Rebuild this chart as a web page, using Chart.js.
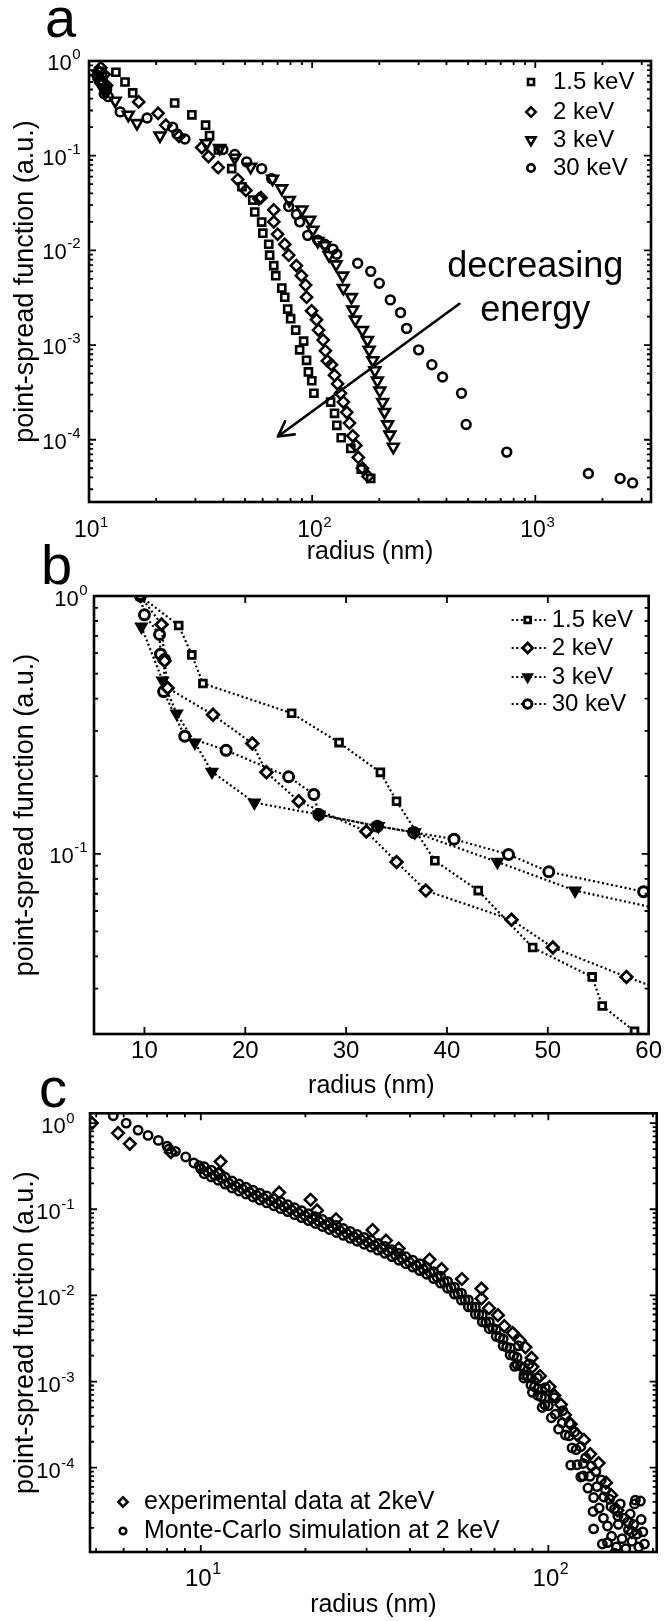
<!DOCTYPE html>
<html>
<head>
<meta charset="utf-8">
<script src="https://cdn.jsdelivr.net/npm/chart.js@4/dist/chart.umd.min.js"></script>
<style>
html,body{margin:0;padding:0;background:#fff;}
#wrap{position:relative;width:665px;height:1621px;overflow:hidden;font-family:"Liberation Sans",Arial,Helvetica,sans-serif;color:#000;}
canvas{position:absolute;left:0;}
.lbl{position:absolute;font-size:56px;line-height:56px;color:#000;z-index:5;}
</style>
</head>
<body>
<div id="wrap">
<canvas id="ca" width="665" height="570" style="top:0px"></canvas>
<canvas id="cb" width="665" height="535" style="top:570px"></canvas>
<canvas id="cc" width="665" height="516" style="top:1105px"></canvas>
<div class="lbl" style="left:45px;top:-10px">a</div>
<div class="lbl" style="left:41px;top:537px">b</div>
<div class="lbl" style="left:39px;top:1060px">c</div>
</div>
<script>
// ---------------- DATA ----------------
// Panel a: point-spread function vs radius (log-log)
const A_SERIES_LABELS = ['1.5 keV', '2 keV', '3 keV', '30 keV'];
const A_15KEV = [[10.9,0.70],[11.1,0.78],[11.5,0.62],[13.2,0.76],[14.5,0.60],[15.7,0.46],[24.2,0.36],[28.9,0.27],[33.3,0.21],[34.7,0.163],[38,0.115],[43.6,0.073],[48.5,0.047],[54.2,0.034],[55.3,0.0254],[59.4,0.0199],[60.1,0.0152],[63.9,0.0116],[64.5,0.0089],[67.3,0.0069],[68.7,0.0054],[73.1,0.0040],[75.4,0.0032],[77.7,0.0024],[80.1,0.0019],[84.4,0.00144],[91.6,0.0011],[87.9,0.00089],[94.4,0.00069],[96.2,0.00052],[99.6,0.00042],[101.8,0.00031],[121,0.00025],[126,0.00019],[129,0.000142],[135,0.000105],[149,0.000081],[166,0.000049],[183,0.000039]];
const A_2KEV = [[11.0,0.78],[11.3,0.85],[11.5,0.60],[11.7,0.72],[12.0,0.55],[16.7,0.37],[20.4,0.28],[22.1,0.21],[25.3,0.16],[32,0.122],[34.3,0.098],[37.9,0.075],[46.4,0.056],[50.5,0.043],[57.7,0.035],[59,0.036],[67.3,0.0267],[67.3,0.020],[70,0.0148],[75.4,0.0116],[78.5,0.0089],[85,0.0069],[89.5,0.0054],[93.5,0.0043],[94.4,0.0032],[99.4,0.0023],[104.6,0.00185],[106.8,0.00144],[112,0.00113],[114.6,0.00087],[117,0.00068],[122,0.00062],[126,0.00048],[130,0.00039],[134,0.00031],[138,0.00025],[143,0.000195],[147,0.00015],[152,0.00011],[157,0.000087],[161,0.000065],[168,0.00005],[178,0.000041]];
const A_3KEV = [[10.9,0.66],[11.2,0.58],[11.5,0.52],[11.8,0.48],[13.1,0.38],[15,0.27],[16.4,0.22],[20.8,0.163],[33.6,0.135],[38.5,0.12],[45,0.095],[53,0.076],[66.5,0.057],[73,0.045],[79,0.034],[90,0.027],[97.6,0.021],[100.7,0.0165],[106,0.0125],[114,0.0113],[119,0.0089],[128,0.0071],[137,0.0054],[138,0.0040],[150,0.0032],[152,0.00236],[156,0.00185],[168,0.00144],[177,0.00113],[180,0.00089],[187,0.00069],[191,0.00054],[196,0.00042],[201,0.00033],[207,0.00025],[211,0.000196],[218,0.000145],[223,0.000113],[231,0.000084]];
const A_30KEV = [[11.1,0.62],[11.4,0.70],[11.7,0.45],[12.0,0.50],[12.2,0.42],[13.8,0.29],[18.2,0.25],[23.7,0.20],[24.8,0.17],[26.9,0.15],[39.8,0.116],[45,0.103],[50.9,0.086],[59.4,0.073],[65.9,0.057],[78.5,0.029],[85,0.024],[88,0.020],[95.5,0.0144],[106,0.0128],[114,0.0116],[124,0.0103],[129,0.0091],[160,0.0073],[183,0.0060],[200,0.0045],[224,0.0030],[249,0.0022],[265,0.0015],[300,0.00089],[344,0.00062],[384,0.00046],[467,0.00031],[490,0.000145],[745,0.000074],[1730,0.000044],[2400,0.000039],[2730,0.000035]];
const A_X_TICKS = [10, 100, 1000];
const A_Y_TICKS = [1e-4, 1e-3, 1e-2, 1e-1, 1];
const A_NOTE = ['decreasing', 'energy'];
const A_NOTE_AT = [1000, 0.0066, 0.0023];        // x, y of line 1, y of line 2 (data units)
const A_ARROW = [[457, 0.00273], [70.2, 0.000108]]; // from, to (data units)

// Panel b: linear radius, log PSF, dotted lines
const B_15KEV = [[9.6,1.0],[13.4,0.768],[14.7,0.591],[15.8,0.458],[24.6,0.351],[29.3,0.27],[33.4,0.207],[35.0,0.16],[38.8,0.094],[43.1,0.072],[48.5,0.0433],[54.4,0.0333],[55.4,0.0257],[58.6,0.0205],[59.8,0.0175]];
const B_2KEV = [[9.6,1.0],[11.7,0.775],[12.0,0.56],[12.3,0.44],[16.8,0.346],[20.7,0.268],[22.1,0.207],[25.3,0.16],[32.0,0.122],[35.0,0.093],[37.9,0.072],[46.4,0.0555],[50.5,0.0433],[57.8,0.0333],[62,0.029]];
const B_3KEV = [[9.7,0.76],[11.8,0.47],[13.2,0.35],[15.0,0.27],[16.7,0.208],[20.9,0.158],[27.3,0.142],[33.2,0.128],[36.8,0.121],[45.0,0.093],[52.7,0.072],[62,0.06]];
const B_30KEV = [[9.6,1.0],[10.0,0.845],[11.5,0.709],[11.6,0.595],[12.0,0.567],[11.9,0.426],[14.0,0.286],[18.1,0.252],[24.3,0.199],[26.8,0.17],[27.3,0.142],[33.1,0.128],[36.7,0.121],[40.7,0.114],[46.1,0.0994],[50.1,0.0852],[59.5,0.0713],[62,0.069]];
const B_X_TICKS = [10, 20, 30, 40, 50, 60];
const B_Y_TICKS = [0.1, 1];

// Panel c: experiment vs Monte-Carlo at 2 keV
const C_SERIES_LABELS = ['experimental data at 2keV', 'Monte-Carlo simulation at 2 keV'];
const C_EXP = [[4.86,1.0],[5.78,0.766],[6.25,0.575],[8.2,0.46],[11.3,0.264],[11.4,0.358],[16.8,0.156],[20.7,0.129],[21.6,0.097],[24.5,0.0766],[31.2,0.0575],[34.1,0.0433],[37.1,0.035],[45.5,0.0261],[49.3,0.0202],[56.4,0.0155],[64.2,0.012],[64.2,0.0092],[67.5,0.0071],[71.6,0.0059],[74.7,0.0044],[79,0.00365],[82.8,0.003],[85.9,0.0025],[89.5,0.00188],[90,0.00148],[94.6,0.00116],[100.8,0.00087],[104,0.00069],[108.7,0.00054],[111.7,0.00041],[116,0.00032],[121,0.00024],[126.6,0.00021],[132,0.000144],[139.5,0.000113],[146.6,0.000067],[151.6,0.000048],[158,0.000032],[169.5,0.0000235],[174,0.0000178]];
const C_MC_HEAD = [[5.6,1.22],[6.1,1.0],[6.6,0.83],[7.05,0.72],[7.55,0.63],[8.0,0.54],[8.1,0.50],[8.45,0.47],[9.05,0.405],[9.55,0.345],[9.9,0.32]];
const C_MC_BAND = [[10.0,0.295],[10.47,0.272],[10.96,0.248],[11.48,0.229],[12.02,0.202],[12.59,0.186],[13.18,0.172],[13.8,0.158],[14.45,0.146],[15.14,0.135],[15.85,0.125],[16.6,0.116],[17.38,0.107],[18.2,0.0989],[19.05,0.0912],[19.95,0.0843],[20.89,0.078],[21.88,0.072],[22.91,0.0665],[23.99,0.0614],[25.12,0.0568],[26.3,0.0525],[27.54,0.0484],[28.84,0.0448],[30.2,0.0414],[31.62,0.0382],[33.11,0.0352],[34.67,0.0324],[36.31,0.0295],[38.02,0.0268],[39.81,0.0244],[41.69,0.0223],[43.65,0.0202],[45.71,0.0184],[47.86,0.0162],[50.12,0.0143],[52.48,0.0123],[54.95,0.0105],[57.54,0.0089],[60.26,0.00733],[63.1,0.00603],[66.07,0.00484],[69.18,0.00417],[72.44,0.00324],[75.86,0.00251],[79.43,0.0020],[83.18,0.00151],[87.1,0.00115],[91.2,0.00087],[95.5,0.00066],[100,0.000525],[104.7,0.000417],[109.6,0.000331],[114.8,0.000234],[120.2,0.000162],[125.9,0.000112],[131.8,0.0000794],[138,0.0000603],[144.5,0.0000457],[151.4,0.0000355],[158.5,0.0000275]];
const C_MC_BAND_LOW = [[10.23,0.2585],[10.72,0.237],[11.22,0.2175],[11.75,0.196],[12.3,0.1768],[12.88,0.1631],[13.49,0.1504],[14.13,0.1388],[14.79,0.1281],[15.49,0.1186],[16.22,0.110],[16.98,0.1017],[17.78,0.0939],[18.62,0.0866],[19.5,0.080],[20.42,0.074],[21.38,0.0683],[22.39,0.0631],[23.44,0.0583],[24.55,0.0538],[25.7,0.0498],[26.92,0.046],[28.18,0.0425],[29.51,0.0393],[30.9,0.0363],[32.36,0.0335],[33.88,0.0308],[35.48,0.0282],[37.15,0.0256],[38.9,0.0233],[40.74,0.0213],[42.66,0.0194],[44.67,0.0176],[46.77,0.0157],[48.98,0.0139],[51.29,0.0121],[53.7,0.01035],[56.23,0.00881],[58.88,0.00737],[61.66,0.00606],[64.57,0.00493],[67.61,0.0041],[70.79,0.00335],[74.13,0.0026],[77.62,0.00204],[81.28,0.00158],[85.11,0.0012],[89.13,0.00091],[93.33,0.00069],[97.72,0.000537]];
const C_MC_BAND_HIGH = [[10.23,0.311],[10.72,0.285],[11.22,0.2615],[11.75,0.2358],[12.3,0.2126],[12.88,0.1961],[13.49,0.1809],[14.13,0.1669],[14.79,0.154],[15.49,0.1426],[16.22,0.1323],[16.98,0.1223],[17.78,0.1128],[18.62,0.1041],[19.5,0.0962],[20.42,0.0889],[21.38,0.0821],[22.39,0.0759],[23.44,0.0701],[24.55,0.0647],[25.7,0.0598],[26.92,0.0553],[28.18,0.051],[29.51,0.0472],[30.9,0.0436],[32.36,0.0402],[33.88,0.037],[35.48,0.0339],[37.15,0.0308],[38.9,0.0281],[40.74,0.0256],[42.66,0.0233],[44.67,0.0211],[46.77,0.0189],[48.98,0.0167],[51.29,0.01454],[53.7,0.01245],[56.23,0.0106],[58.88,0.00886],[61.66,0.00729],[64.57,0.00592],[67.61,0.00493],[70.79,0.00403],[74.13,0.00313],[77.62,0.00245],[81.28,0.0019],[85.11,0.00145],[89.13,0.0011],[93.33,0.00083],[97.72,0.000646]];
const C_MC_TAIL = [[80,0.0015],[82,0.0026],[85,0.0011],[88,0.0016],[90,0.00075],[93,0.0011],[96,0.0005],[98,0.00085],[102,0.00038],[104,0.00065],[107,0.00028],[110,0.00046],[112,0.00024],[115,0.00033],[117,0.00017],[119,0.00026],[121,0.000108],[124,0.000175],[126,0.00008],[128,0.00013],[130,0.000058],[133,0.000105],[135,0.000045],[137,0.00009],[140,0.000034],[142,0.000072],[144,0.000026],[146,0.000055],[148,0.000021],[150,0.000043],[152,0.000016],[155,0.000033],[157,0.000012],[159,0.000022],[161,0.000038],[163,0.000015],[165,0.000026],[167,0.0000115],[170,0.000019],[172,0.000029],[174,0.000014],[176,0.000022],[178,0.000042],[180,0.000017],[182,0.000012],[185,0.000025],[187,0.000018],[189,0.000013],[116,0.000107],[124,0.000078],[134.5,0.000031],[135,0.0000195],[184,0.000041],[177,0.000038],[143,0.000013],[155,0.0000102],[148,0.0000135]];
const C_X_TICKS = [10, 100];
const C_Y_TICKS = [1e-4, 1e-3, 1e-2, 1e-1, 1];

// ---------------- HELPERS ----------------
const FONT = '"Liberation Sans", Arial, Helvetica, sans-serif';
const SUP = {'-':'\u207B','0':'\u2070','1':'\u00B9','2':'\u00B2','3':'\u00B3','4':'\u2074','5':'\u2075','6':'\u2076','7':'\u2077','8':'\u2078','9':'\u2079'};
function pow10Label(v){ const e = Math.round(Math.log10(v)); return '10' + String(e).split('').map(c => SUP[c]).join(''); }
const pts = arr => arr.map(([x, y]) => ({x, y}));

function logMarks(min, max){
  const out = [];
  for (let e = Math.floor(Math.log10(min)); e <= Math.ceil(Math.log10(max)); e++) {
    for (let m = 1; m <= 9; m++) {
      const v = m * Math.pow(10, e);
      if (v >= min * 0.999 && v <= max * 1.001) out.push([v, m === 1]);
    }
  }
  return out;
}

const framePlugin = {
  id: 'frame',
  afterDatasetsDraw(chart, args, o) {
    const {ctx, chartArea: a} = chart; const xs = chart.scales.x, ys = chart.scales.y;
    const xm = xs.type === 'logarithmic' ? logMarks(xs.min, xs.max) : (o.xMarks || []).map(v => [v, true]);
    const ym = ys.type === 'logarithmic' ? logMarks(ys.min, ys.max) : (o.yMarks || []).map(v => [v, true]);
    ctx.save(); ctx.strokeStyle = '#000'; ctx.lineWidth = 1.8; ctx.beginPath();
    xm.forEach(([v, maj]) => { const p = xs.getPixelForValue(v); const L = maj ? 7 : 4;
      ctx.moveTo(p, a.bottom); ctx.lineTo(p, a.bottom - L); ctx.moveTo(p, a.top); ctx.lineTo(p, a.top + L); });
    ym.forEach(([v, maj]) => { const p = ys.getPixelForValue(v); const L = maj ? 7 : 4;
      ctx.moveTo(a.left, p); ctx.lineTo(a.left + L, p); ctx.moveTo(a.right, p); ctx.lineTo(a.right - L, p); });
    ctx.stroke();
    ctx.lineWidth = 2.6; ctx.strokeRect(a.left, a.top, a.right - a.left, a.bottom - a.top);
    ctx.restore();
  }
};

// draws "10" with a raised exponent for each (log) tick of the axis
const powLabelPlugin = {
  id: 'powLabels',
  afterDraw(chart, args, o) {
    const {ctx, chartArea: a} = chart;
    ctx.save(); ctx.fillStyle = '#000'; ctx.textAlign = 'left'; ctx.textBaseline = 'alphabetic';
    ['x', 'y'].forEach(k => {
      const s = chart.scales[k], c = o[k];
      if (!c || s.type !== 'logarithmic') return;
      s.ticks.forEach(t => {
        const v = t.value, e = String(Math.round(Math.log10(v)));
        ctx.font = c.size + 'px ' + FONT; const wb = ctx.measureText('10').width;
        ctx.font = c.sup + 'px ' + FONT; const we = ctx.measureText(e).width;
        let x, y;
        if (k === 'x') { x = s.getPixelForValue(v) - (wb + we) / 2 + 2; y = a.bottom + c.off; }
        else { x = a.left - c.off - wb - we; y = s.getPixelForValue(v) + c.dy; }
        ctx.font = c.size + 'px ' + FONT; ctx.fillText('10', x, y);
        ctx.font = c.sup + 'px ' + FONT; ctx.fillText(e, x + wb + 0.5, y - c.rise);
      });
    });
    ctx.restore();
  }
};

const legendPlugin = {
  id: 'plateLegend',
  afterDraw(chart, args, o) {
    if (!o || !o.rows) return;
    const {ctx, chartArea: a} = chart;
    ctx.save();
    ctx.font = o.font; ctx.textBaseline = 'middle'; ctx.textAlign = 'left';
    chart.data.datasets.forEach((ds, i) => {
      const y = (o.anchor === 'bottom' ? a.bottom : a.top) + o.rows[i];
      const base = o.side === 'right' ? a.right : a.left;
      if (o.line) {
        ctx.save(); ctx.strokeStyle = '#000'; ctx.lineWidth = ds.borderWidth; ctx.setLineDash(ds.borderDash || []);
        ctx.beginPath(); ctx.moveTo(base + o.lineFrom, y); ctx.lineTo(base + o.lineTo, y); ctx.stroke(); ctx.restore();
      }
      ctx.save();
      ctx.fillStyle = ds.pointBackgroundColor || ds.backgroundColor; ctx.strokeStyle = '#000'; ctx.lineWidth = ds.pointBorderWidth; ctx.setLineDash([]);
      Chart.helpers.drawPoint(ctx, {pointStyle: ds.pointStyle, rotation: ds.pointRotation || 0, radius: ds.pointRadius * (o.markerScale || 1), borderWidth: ds.pointBorderWidth}, base + o.markerDX, y);
      ctx.restore();
      ctx.fillStyle = '#000';
      ctx.fillText(ds.label, base + o.textDX, y);
    });
    ctx.restore();
  }
};

const notePlugin = {
  id: 'note',
  afterDatasetsDraw(chart, args, o) {
    if (!o || !o.text) return;
    const {ctx} = chart; const xs = chart.scales.x, ys = chart.scales.y;
    ctx.save();
    ctx.fillStyle = '#000'; ctx.font = o.font; ctx.textAlign = 'center'; ctx.textBaseline = 'middle';
    const tx = xs.getPixelForValue(o.at[0]);
    ctx.fillText(o.text[0], tx, ys.getPixelForValue(o.at[1]));
    ctx.fillText(o.text[1], tx, ys.getPixelForValue(o.at[2]));
    const x0 = xs.getPixelForValue(o.arrow[0][0]), y0 = ys.getPixelForValue(o.arrow[0][1]);
    const x1 = xs.getPixelForValue(o.arrow[1][0]), y1 = ys.getPixelForValue(o.arrow[1][1]);
    ctx.strokeStyle = '#000'; ctx.lineWidth = 2.6; ctx.lineCap = 'round';
    ctx.beginPath(); ctx.moveTo(x0, y0); ctx.lineTo(x1, y1);
    const ang = Math.atan2(y0 - y1, x0 - x1);
    [-0.5, 0.5].forEach(d => { ctx.moveTo(x1, y1); ctx.lineTo(x1 + 17 * Math.cos(ang + d), y1 + 17 * Math.sin(ang + d)); });
    ctx.stroke();
    ctx.restore();
  }
};

function logAxis(min, max, tickList, title, titlePad, fitSize, horizontal) {
  return {
    type: 'logarithmic', min, max, position: horizontal ? 'bottom' : 'left',
    grid: {display: false, drawTicks: false}, border: {display: false},
    afterBuildTicks: s => { s.ticks = tickList.map(v => ({value: v})); },
    ticks: {display: false, callback: v => pow10Label(v), autoSkip: false},
    title: {display: true, text: title, color: '#000', font: {family: FONT, size: horizontal ? 25 : 27}, padding: titlePad},
    afterFit: s => { if (horizontal) s.height = fitSize; else s.width = fitSize; }
  };
}

function scatterSet(label, data, style, radius, bw, fill, rotation, line) {
  return {
    label, data: pts(data), showLine: !!line,
    borderColor: '#000', borderWidth: line ? 2.2 : 0, borderDash: line ? [2, 2.6] : [],
    pointStyle: style, pointRadius: radius, pointHoverRadius: radius, pointRotation: rotation || 0,
    pointBorderWidth: bw, pointBorderColor: '#000', pointBackgroundColor: fill, backgroundColor: fill,
    tension: 0
  };
}

const common = {responsive: false, animation: false, events: []};
const CLEAR = 'rgba(0,0,0,0)';

// ---------------- PANEL A ----------------
new Chart(document.getElementById('ca'), {
  type: 'scatter',
  data: {datasets: [
    scatterSet(A_SERIES_LABELS[0], A_15KEV, 'rect', 5, 2.6, CLEAR),
    scatterSet(A_SERIES_LABELS[1], A_2KEV, 'rectRot', 5.6, 2.5, CLEAR),
    scatterSet(A_SERIES_LABELS[2], A_3KEV, 'triangle', 6.2, 2.6, CLEAR, 180),
    scatterSet(A_SERIES_LABELS[3], A_30KEV, 'circle', 4.4, 2.6, CLEAR)
  ]},
  options: Object.assign({}, common, {
    layout: {padding: {left: 0, right: 14, top: 61, bottom: 0}},
    scales: {
      x: logAxis(10, 3300, A_X_TICKS, 'radius (nm)', {top: 0, bottom: 3}, 68, true),
      y: logAxis(2.2e-5, 1, A_Y_TICKS, 'point-spread function (a.u.)', {top: 9, bottom: 0}, 89, false)
    },
    plugins: {legend: {display: false}, tooltip: {enabled: false},
      frame: {},
      powLabels: {x: {size: 23, sup: 15, off: 35, rise: 10}, y: {size: 22, sup: 15, off: 9, dy: 9, rise: 11}},
      plateLegend: {font: '24px ' + FONT, side: 'right', rows: [21, 51, 79, 107], markerDX: -120, textDX: -98, markerScale: 0.85},
      note: {font: '36px ' + FONT, text: A_NOTE, at: A_NOTE_AT, arrow: A_ARROW}
    }
  }),
  plugins: [framePlugin, legendPlugin, notePlugin, powLabelPlugin]
});

// ---------------- PANEL B ----------------
new Chart(document.getElementById('cb'), {
  type: 'scatter',
  data: {datasets: [
    scatterSet(A_SERIES_LABELS[0], B_15KEV, 'rect', 4.8, 2.8, '#fff', 0, true),
    scatterSet(A_SERIES_LABELS[1], B_2KEV, 'rectRot', 5.8, 2.8, '#fff', 0, true),
    scatterSet(A_SERIES_LABELS[2], B_3KEV, 'triangle', 6.8, 1.5, '#000', 180, true),
    scatterSet(A_SERIES_LABELS[3], B_30KEV, 'circle', 5, 3, '#fff', 0, true)
  ]},
  options: Object.assign({}, common, {
    layout: {padding: {left: 0, right: 16, top: 26, bottom: 0}},
    scales: {
      x: {type: 'linear', min: 5, max: 60, position: 'bottom',
        grid: {display: false, drawTicks: false}, border: {display: false},
        afterBuildTicks: s => { s.ticks = B_X_TICKS.map(v => ({value: v})); },
        ticks: {callback: v => String(v), color: '#000', font: {family: FONT, size: 24}, padding: 3, maxRotation: 0, autoSkip: false},
        title: {display: true, text: 'radius (nm)', color: '#000', font: {family: FONT, size: 25}, padding: {top: 0, bottom: 4}},
        afterFit: s => { s.height = 71; }},
      y: logAxis(0.02, 1, B_Y_TICKS, 'point-spread function (a.u.)', {top: 9, bottom: 0}, 94, false)
    },
    plugins: {legend: {display: false}, tooltip: {enabled: false},
      frame: {xMarks: B_X_TICKS},
      powLabels: {y: {size: 22, sup: 15, off: 7, dy: 9.5, rise: 11}},
      plateLegend: {font: '24px ' + FONT, side: 'right', line: true, rows: [24, 52, 81, 108], markerDX: -121, lineFrom: -137, lineTo: -103, textDX: -97, markerScale: 0.85}
    }
  }),
  plugins: [framePlugin, legendPlugin, powLabelPlugin]
});

// ---------------- PANEL C ----------------
new Chart(document.getElementById('cc'), {
  type: 'scatter',
  data: {datasets: [
    scatterSet(C_SERIES_LABELS[0], C_EXP, 'rectRot', 5.8, 2.5, CLEAR),
    scatterSet(C_SERIES_LABELS[1], C_MC_HEAD.concat(C_MC_BAND, C_MC_BAND_LOW, C_MC_BAND_HIGH, C_MC_TAIL), 'circle', 4.2, 2.5, CLEAR)
  ]},
  options: Object.assign({}, common, {
    layout: {padding: {left: 0, right: 8, top: 6, bottom: 0}},
    scales: {
      x: logAxis(4.8, 205, C_X_TICKS, 'radius (nm)', {top: 0, bottom: 1}, 69, true),
      y: logAxis(1.05e-5, 1.3, C_Y_TICKS, 'point-spread function (a.u.)', {top: 9, bottom: 0}, 90, false)
    },
    plugins: {legend: {display: false}, tooltip: {enabled: false},
      frame: {},
      powLabels: {x: {size: 24, sup: 16, off: 34, rise: 12}, y: {size: 22, sup: 15, off: 16, dy: 10, rise: 10}},
      plateLegend: {font: '25px ' + FONT, side: 'left', anchor: 'bottom', rows: [-50, -21], markerDX: 33, textDX: 54, markerScale: 0.8}
    }
  }),
  plugins: [framePlugin, legendPlugin, powLabelPlugin]
});
</script>
</body>
</html>
